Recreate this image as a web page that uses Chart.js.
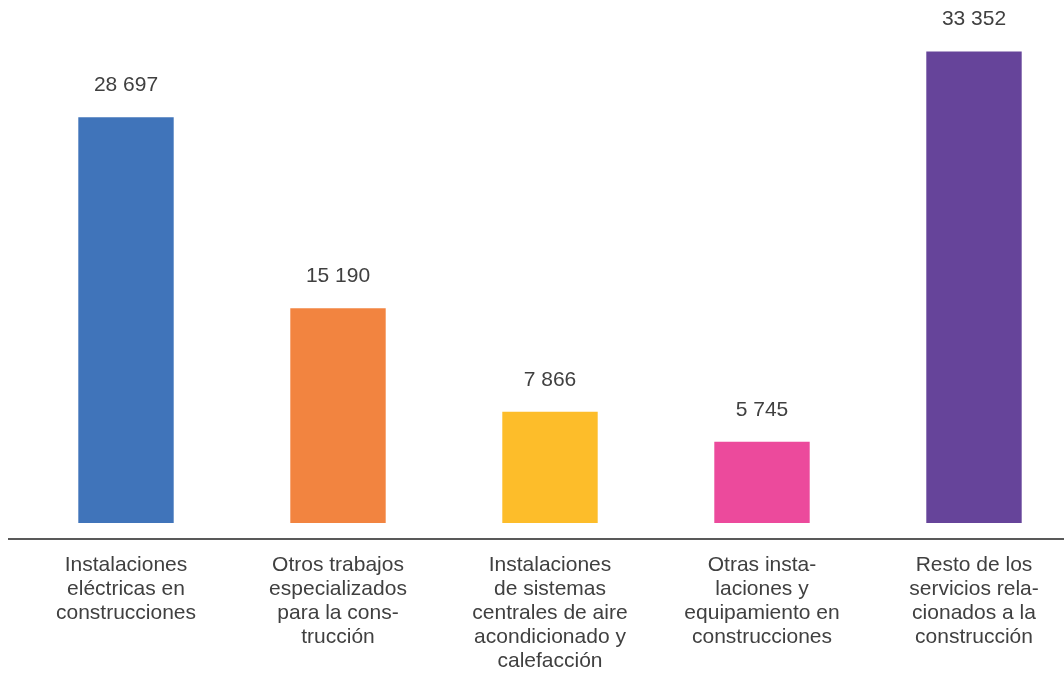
<!DOCTYPE html>
<html>
<head>
<meta charset="utf-8">
<script src="https://cdn.jsdelivr.net/npm/chart.js@4/dist/chart.umd.min.js"></script>
<style>
  html, body { margin: 0; padding: 0; background: #fff; overflow: hidden; }
  #wrap { position: relative; width: 1090px; height: 675px; }
</style>
</head>
<body>
<div id="wrap"><canvas id="chart"></canvas></div>
<script>
const categorias = [
  ['Instalaciones', 'eléctricas en', 'construcciones'],
  ['Otros trabajos', 'especializados', 'para la cons-', 'trucción'],
  ['Instalaciones', 'de sistemas', 'centrales de aire', 'acondicionado y', 'calefacción'],
  ['Otras insta-', 'laciones y', 'equipamiento en', 'construcciones'],
  ['Resto de los', 'servicios rela-', 'cionados a la', 'construcción']
];
const valores = [28697, 15190, 7866, 5745, 33352];
const colores = ['#4074BA', '#F28440', '#FDBD2A', '#EC4A9C', '#66449A'];

const fmt = v => String(v).replace(/\B(?=(\d{3})+(?!\d))/g, ' ');

// etiquetas de valor encima de cada barra + línea base
const extras = {
  id: 'extras',
  afterDatasetsDraw(chart) {
    const ctx = chart.ctx;
    const meta = chart.getDatasetMeta(0);
    ctx.save();
    ctx.fillStyle = '#404040';
    ctx.font = '21px "Liberation Sans", Arial, sans-serif';
    ctx.textAlign = 'center';
    ctx.textBaseline = 'middle';
    meta.data.forEach((bar, i) => {
      ctx.fillText(fmt(valores[i]), bar.x, bar.y - 32);
    });
    const y = chart.scales.y.bottom + 16;
    ctx.strokeStyle = '#595959';
    ctx.lineWidth = 2;
    ctx.beginPath();
    ctx.moveTo(8, y);
    ctx.lineTo(1064, y);
    ctx.stroke();
    ctx.restore();
  }
};

new Chart(document.getElementById('chart'), {
  type: 'bar',
  data: {
    labels: categorias,
    datasets: [{
      data: valores,
      backgroundColor: colores,
      categoryPercentage: 0.9,
      barPercentage: 0.5
    }]
  },
  options: {
    responsive: true,
    maintainAspectRatio: false,
    animation: false,
    layout: { padding: { left: 20, right: 10, top: 0, bottom: -28 } },
    plugins: {
      legend: { display: false },
      tooltip: { enabled: false }
    },
    scales: {
      x: {
        grid: { display: false, drawTicks: false },
        border: { display: false },
        ticks: {
          color: '#404040',
          font: { family: '"Liberation Sans", Arial, sans-serif', size: 21, lineHeight: 24 / 21 },
          padding: 30,
          maxRotation: 0,
          autoSkip: false
        }
      },
      y: {
        display: false,
        min: 0,
        max: 37000
      }
    }
  },
  plugins: [extras]
});
</script>
</body>
</html>
